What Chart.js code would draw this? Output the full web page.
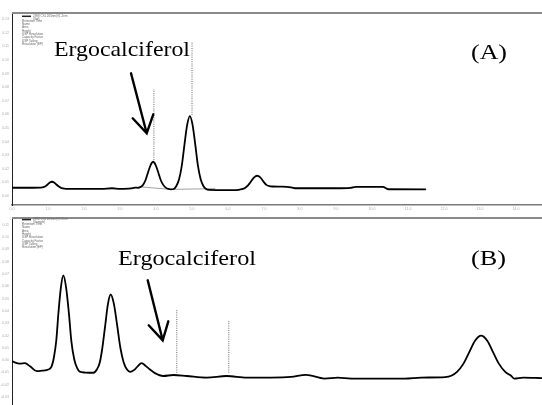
<!DOCTYPE html>
<html>
<head>
<meta charset="utf-8">
<script src="https://cdn.jsdelivr.net/npm/chart.js@4.4.1/dist/chart.umd.min.js"></script>
<style>
  html, body { margin: 0; padding: 0; background: #fff; overflow: hidden; }
  #wrapA { position: absolute; left: 0; top: 0; }
  #wrapB { position: absolute; left: 0; top: 213px; }
</style>
</head>
<body>
<div id="wrapA"><canvas id="chromA" width="542" height="213"></canvas></div>
<div id="wrapB"><canvas id="chromB" width="542" height="200"></canvas></div>
<script>
// panel (A) standard trace: retention time (min) / detector signal
const timeA = [0, 0.5, 0.81, 0.87, 0.93, 0.99, 1.05, 1.11, 1.17, 1.23, 1.29, 1.35, 1.41, 1.5, 2.0, 2.5, 2.78, 3.0, 3.3, 3.42,
  3.5, 3.57, 3.64, 3.71, 3.78, 3.85, 3.92, 3.99, 4.06, 4.13, 4.2, 4.27, 4.34, 4.41, 4.49, 4.565, 4.64, 4.715, 4.79, 4.865,
  4.94, 5.015, 5.09, 5.165, 5.24, 5.315, 5.39, 5.47, 5.8, 6.1, 6.3, 6.385, 6.47, 6.555, 6.64, 6.725, 6.81, 6.895, 6.98, 7.065,
  7.15, 7.235, 7.5, 7.75, 7.9, 8.5, 9.0, 9.4, 9.55, 10.3, 10.45, 11.5];
const signalA = [0.61, 0.61, 0.62, 0.65, 0.72, 0.85, 0.99, 1.05, 0.99, 0.85, 0.72, 0.62, 0.56, 0.53, 0.52, 0.53, 0.57, 0.53, 0.56, 0.62,
  0.60, 0.66, 0.82, 1.18, 1.75, 2.28, 2.52, 2.28, 1.75, 1.18, 0.82, 0.62, 0.52, 0.49, 0.52, 0.74, 1.23, 2.22, 3.78, 5.23,
  5.88, 5.23, 3.78, 2.22, 1.23, 0.74, 0.52, 0.45, 0.44, 0.44, 0.46, 0.50, 0.59, 0.78, 1.08, 1.37, 1.49, 1.37, 1.08, 0.82,
  0.72, 0.70, 0.69, 0.64, 0.57, 0.57, 0.57, 0.60, 0.68, 0.68, 0.50, 0.49];
// integration baseline under the two main peaks
const baseTimeA = [3.51, 4.39, 5.64];
const baseValA = [0.69, 0.49, 0.54];
// peak label markers (dotted)
const markTimeA = [3.94, 5.0];
const markLowA = [2.65, 5.96];
const markHighA = [7.87, 11.33];

// panel (B) sample trace
const timeB = [0, 0.22, 0.36, 0.5, 0.69, 0.83, 0.96, 1.04, 1.10, 1.16, 1.23, 1.29, 1.36, 1.425, 1.50, 1.58, 1.65, 1.73, 1.81, 1.88,
  2.03, 2.26, 2.36, 2.44, 2.51, 2.59, 2.665, 2.74, 2.83, 2.92, 3.01, 3.10, 3.19, 3.28, 3.39, 3.49, 3.60, 3.72, 3.83, 3.97,
  4.20, 4.48, 4.85, 5.41, 5.96, 6.52, 7.19, 7.75, 8.17, 8.68, 9.05, 9.42, 10.90, 11.36, 12.03, 12.20, 12.36, 12.53, 12.70, 12.86,
  13.03, 13.20, 13.36, 13.53, 13.70, 13.86, 13.95, 14.2, 14.72];
const signalB = [-0.10, -0.28, -0.24, -0.49, -0.89, -0.85, -0.80, -0.72, -0.50, 0.16, 1.60, 3.85, 5.95, 6.88, 5.95, 3.82, 1.51, 0.06, -0.65, -0.93,
  -1.00, -1.02, -0.74, -0.16, 1.01, 2.85, 4.57, 5.33, 4.57, 2.85, 1.01, -0.16, -0.74, -0.94, -0.80, -0.50, -0.24, -0.48, -0.75, -1.05,
  -1.28, -1.20, -1.28, -1.41, -1.28, -1.41, -1.41, -1.36, -1.19, -1.49, -1.41, -1.49, -1.49, -1.41, -1.37, -1.26, -0.95, -0.32, 0.66, 1.58,
  1.99, 1.58, 0.66, -0.32, -0.95, -1.26, -1.49, -1.41, -1.45];
const markTimeB = [4.575, 6.02];
const markLowB = [-1.02, -1.02];
const markHighB = [4.13, 3.19];

const legendRows = ['Retention Time', 'Name', 'Area', 'Height', 'USP Resolution', 'Capacity Factor', 'USP Tailing', 'Resolution (EP)'];

function pts(xs, ys) { return xs.map((x, i) => ({ x: x, y: ys[i] })); }

function markerSets(ts, lo, hi) {
  return ts.map((t, i) => ({
    data: [{ x: t, y: lo[i] }, { x: t, y: hi[i] }],
    borderColor: '#8c8c8c', borderWidth: 1.3, borderDash: [1, 1.2],
    pointRadius: 0, tension: 0
  }));
}

// draws frame top, tiny legend block, big labels and arrow
function makeDecor(cfg) {
  return {
    id: 'decor',
    afterDraw(chart) {
      const ctx = chart.ctx, a = chart.chartArea;
      ctx.save();
      ctx.strokeStyle = '#8a8a8a';
      ctx.lineWidth = 2;
      ctx.beginPath(); ctx.moveTo(a.left, a.top); ctx.lineTo(a.right, a.top); ctx.stroke();

      // legend block
      const y0 = cfg.legendY;
      ctx.strokeStyle = '#222'; ctx.lineWidth = 1.5;
      ctx.beginPath(); ctx.moveTo(22, y0); ctx.lineTo(31, y0); ctx.stroke();
      ctx.fillStyle = '#666';
      ctx.font = '3px "Liberation Sans"';
      ctx.textBaseline = 'middle';
      ctx.fillText(cfg.series, 33, y0);
      ctx.fillText(cfg.sub, 33, y0 + 2.4);
      legendRows.forEach((r, i) => ctx.fillText(r, 22, y0 + 4.7 + i * 3.3));

      // big labels, horizontally stretched like the scan
      ctx.fillStyle = '#000';
      ctx.textBaseline = 'alphabetic';
      ctx.font = '21px "Liberation Serif"';
      cfg.labels.forEach(l => {
        const w = ctx.measureText(l.text).width;
        ctx.save();
        ctx.translate(l.x, l.y);
        ctx.scale(l.w / w, 1);
        ctx.fillText(l.text, 0, 0);
        ctx.restore();
      });

      // arrow
      const ar = cfg.arrow;
      ctx.strokeStyle = '#000'; ctx.lineWidth = 2.4; ctx.lineCap = 'round';
      ctx.beginPath();
      ctx.moveTo(ar.from[0], ar.from[1]); ctx.lineTo(ar.tip[0], ar.tip[1]);
      ctx.moveTo(ar.left[0], ar.left[1]); ctx.lineTo(ar.tip[0], ar.tip[1]);
      ctx.lineTo(ar.right[0], ar.right[1]);
      ctx.stroke();
      ctx.restore();
    }
  };
}

const tinyTicks = { color: '#aaa', font: { size: 3.5, family: 'Liberation Sans' } };

new Chart(document.getElementById('chromA'), {
  type: 'line',
  data: {
    datasets: [
      { data: pts(timeA, signalA), borderColor: '#000', borderWidth: 1.8, pointRadius: 0, cubicInterpolationMode: 'monotone' },
      { data: pts(baseTimeA, baseValA), borderColor: '#a0a0a0', borderWidth: 1, pointRadius: 0, tension: 0 }
    ].concat(markerSets(markTimeA, markLowA, markHighA))
  },
  options: {
    responsive: false,
    animation: false,
    layout: { padding: { top: 13, left: 0, right: 0, bottom: 0 } },
    plugins: { legend: { display: false }, tooltip: { enabled: false } },
    scales: {
      x: {
        type: 'linear', min: 0, max: 14.72,
        grid: { display: false, drawTicks: false },
        border: { display: true, color: '#7a7a7a', width: 1.6 },
        ticks: Object.assign({ stepSize: 1, includeBounds: false, padding: 2, maxRotation: 0,
          callback: v => v.toFixed(1) }, tinyTicks),
        afterFit: s => { s.height = 8; s.paddingLeft = 0; s.paddingRight = 0; }
      },
      y: {
        min: -0.66, max: 13.46,
        grid: { display: false, drawTicks: false },
        border: { display: true, color: '#222', width: 1 },
        ticks: Object.assign({ stepSize: 1, includeBounds: false, padding: 3,
          callback: v => (v * 0.01).toFixed(2) }, tinyTicks),
        afterFit: s => { s.width = 12; }
      }
    }
  },
  plugins: [makeDecor({
    legendY: 16.3, series: '2998 Ch1 265nm@1.2nm', sub: '(Std)',
    labels: [
      { text: 'Ergocalciferol', x: 54, y: 56, w: 136 },
      { text: '(A)', x: 471, y: 58.5, w: 36 }
    ],
    arrow: { from: [131, 73.3], tip: [146.7, 133.3], left: [132.7, 118.3], right: [153.3, 114.3] }
  })]
});

new Chart(document.getElementById('chromB'), {
  type: 'line',
  data: {
    datasets: [
      { data: pts(timeB, signalB), borderColor: '#000', borderWidth: 1.8, pointRadius: 0, cubicInterpolationMode: 'monotone' }
    ].concat(markerSets(markTimeB, markLowB, markHighB))
  },
  options: {
    responsive: false,
    animation: false,
    layout: { padding: { top: 3.7, left: 0, right: 0, bottom: 0 } },
    plugins: { legend: { display: false }, tooltip: { enabled: false } },
    scales: {
      x: { type: 'linear', min: 0, max: 14.72, display: false },
      y: {
        min: -3.87, max: 11.53,
        grid: { display: false, drawTicks: false },
        border: { display: true, color: '#222', width: 1 },
        ticks: Object.assign({ stepSize: 1, includeBounds: false, padding: 3,
          callback: v => (v * 0.01).toFixed(2) }, tinyTicks),
        afterFit: s => { s.width = 12; }
      }
    }
  },
  plugins: [makeDecor({
    legendY: 6.6, series: '2998 Ch1 265nm@1.2nm', sub: '(Sample)',
    labels: [
      { text: 'Ergocalciferol', x: 118, y: 52, w: 138 },
      { text: '(B)', x: 471, y: 52, w: 35 }
    ],
    arrow: { from: [147.7, 67.3], tip: [162.7, 127.3], left: [148.7, 112.3], right: [168.3, 108.3] }
  })]
});
</script>
</body>
</html>
